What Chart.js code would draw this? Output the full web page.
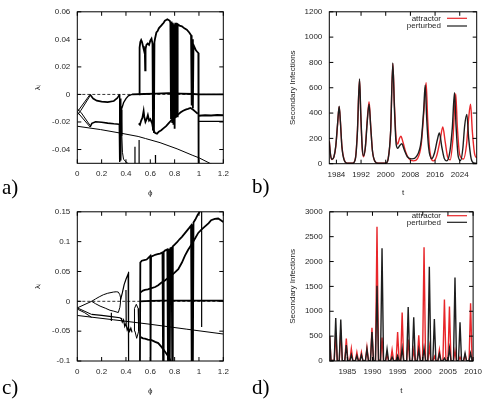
<!DOCTYPE html>
<html><head><meta charset="utf-8">
<script src="https://cdn.jsdelivr.net/npm/chart.js@4"></script>
<style>
body{margin:0;background:#fff;width:488px;height:400px;position:relative;overflow:hidden}
.p{position:absolute;width:244px;height:200px}
.lab{position:absolute;font-family:"Liberation Serif","DejaVu Serif",serif;font-size:21px;line-height:21px;color:#000}
</style></head><body>
<div class="p" style="left:0;top:0"><canvas id="ca" width="244" height="200"></canvas></div>
<div class="p" style="left:244px;top:0"><canvas id="cb" width="244" height="200"></canvas></div>
<div class="p" style="left:0;top:200px"><canvas id="cc" width="244" height="200"></canvas></div>
<div class="p" style="left:244px;top:200px"><canvas id="cd" width="244" height="200"></canvas></div>
<div class="lab" style="left:2px;top:177px">a)</div>
<div class="lab" style="left:252px;top:176px">b)</div>
<div class="lab" style="left:2px;top:377px">c)</div>
<div class="lab" style="left:252px;top:377px">d)</div>
<script>
// tick labels
const PHI_TICKS=[0,0.2,0.4,0.6,0.8,1,1.2];
const A_YTICKS=[0.06,0.04,0.02,0,-0.02,-0.04];
const C_YTICKS=[0.15,0.1,0.05,0,-0.05,-0.1];
const B_XTICKS=[1984,1992,2000,2008,2016,2024];
const B_YTICKS=[0,200,400,600,800,1000,1200];
const D_XTICKS=[1985,1990,1995,2000,2005,2010];
const D_YTICKS=[0,500,1000,1500,2000,2500,3000];

// panel a: lyapunov spectrum (phi, lambda)
const A_ZERO=[[0,0],[1.2,0]];
const A_LIN=[[0,-0.0231],[0.19,-0.0255],[0.35,-0.028],[0.5,-0.0305],[0.56,-0.032],[0.68,-0.035],[0.82,-0.0395],[0.95,-0.0443],[1.0,-0.046],[1.09,-0.05],[1.2,-0.055]];
const A_LEFT=[[0,-0.0127],[0.105,0],[0.105,null],[0,-0.0127],[0.105,-0.0236],[0.105,null],[0,-0.0105],[0.03,-0.013],[0.105,-0.0225],[0.105,null],[0,-0.015],[0.03,-0.0115],[0.105,-0.001]];
const A_UP=[[0.105,0],[0.13,-0.003],[0.16,-0.0045],[0.2,-0.0052],[0.25,-0.0056],[0.3,-0.0047],[0.33,-0.0025],[0.348,0]];
const A_LOW=[[0.105,-0.0236],[0.12,-0.021],[0.15,-0.0198],[0.2,-0.0202],[0.25,-0.0208],[0.3,-0.0213],[0.345,-0.0216]];
const A_SPK=[[0.345,-0.0216],[0.347,-0.049],[0.35,0],[0.353,-0.045],[0.356,-0.003],[0.359,-0.048],[0.362,-0.011],[0.37,-0.009],[0.38,-0.006],[0.4,-0.003],[0.42,-0.001],[0.45,0]];
const A_DROP=[[0.362,-0.011],[0.366,-0.03],[0.371,-0.042],[0.38,-0.047],[0.4,-0.049],[0.43,-0.051]];
const A_VERT=[[0.474,-0.038],[0.474,-0.051],[0.474,null],[0.508,-0.033],[0.508,-0.051],[0.508,null],[0.642,-0.044],[0.643,-0.051]];
const A_Z2=[[0.45,0],[0.55,0.0003],[0.65,0.0006],[0.75,0.0009],[0.85,0.0006],[0.95,0.0003],[1.0,0],[1.2,0]];
const A_TOP=[[0.508,0],[0.512,0.034],[0.518,0.038],[0.525,0.0395],[0.532,0.038],[0.54,0.035],[0.548,0.032],[0.555,0.031],[0.558,0.0175],[0.561,0.033],[0.568,0.036],[0.578,0.037],[0.59,0.036],[0.6,0.039],[0.61,0.0405],[0.618,0.037],[0.622,-0.026],[0.626,0.035],[0.63,-0.028],[0.634,0.038],[0.64,0.041],[0.65,0.045],[0.66,0.046],[0.67,0.048],[0.68,0.049],[0.69,0.05],[0.7,0.051],[0.71,0.052],[0.72,0.0535],[0.73,0.054],[0.74,0.0545],[0.75,0.054],[0.76,0.0535],[0.765,0.052],[0.77,-0.018],[0.775,0.053],[0.78,-0.02],[0.785,0.052],[0.79,-0.022],[0.795,0.051],[0.8,-0.025],[0.805,0.052],[0.81,-0.017],[0.815,0.051],[0.82,-0.016],[0.825,0.051],[0.84,0.05],[0.86,0.0495],[0.88,0.048],[0.9,0.047],[0.92,0.045],[0.935,0.043],[0.94,-0.008],[0.945,0.04],[0.95,-0.01],[0.955,0.036],[0.965,0.034],[0.975,0.032],[0.985,0.031],[0.995,0.03],[0.997,-0.05]];
const A_L3=[[0.505,-0.021],[0.515,-0.022],[0.525,-0.019],[0.535,-0.017],[0.545,-0.012],[0.55,-0.016],[0.56,-0.02],[0.57,-0.018],[0.58,-0.015],[0.59,-0.019],[0.6,-0.018],[0.615,-0.021],[0.625,-0.026],[0.64,-0.028],[0.655,-0.0285],[0.67,-0.027],[0.69,-0.026],[0.71,-0.0245],[0.73,-0.023],[0.75,-0.021],[0.77,-0.019],[0.79,-0.018],[0.81,-0.016],[0.83,-0.0145],[0.85,-0.013],[0.87,-0.0118],[0.89,-0.011],[0.91,-0.0105],[0.93,-0.0098],[0.95,-0.011],[0.97,-0.0125],[0.99,-0.014]];
const A_R1=[[0.997,-0.0155],[1.05,-0.0152],[1.1,-0.0153],[1.15,-0.015],[1.2,-0.0152]];
const A_R2=[[0.997,-0.0195],[1.2,-0.0195]];

// panel c
const C_ZERO=[[0,0],[1.2,0]];
const C_LIN=[[0,-0.0237],[0.3,-0.031],[0.6,-0.0385],[0.9,-0.0467],[1.2,-0.0548]];
const C_LEFT=[[0,-0.011],[0.118,0],[0.118,null],[0,-0.011],[0.118,-0.022],[0.118,null],[0,-0.013],[0.06,-0.019],[0.118,-0.027]];
const C_LOOP=[[0.118,0],[0.15,0.004],[0.18,0.0075],[0.214,0.011],[0.25,0.0135],[0.296,0.0155],[0.32,0.016],[0.337,0.0155],[0.35,0.011],[0.356,0.0057],[0.355,-0.002],[0.35,-0.01],[0.337,-0.0188],[0.3,-0.0165],[0.269,-0.015],[0.23,-0.0115],[0.187,-0.008],[0.15,-0.004],[0.118,0]];
const C_LOW=[[0.118,-0.022],[0.2,-0.0235],[0.28,-0.0255],[0.35,-0.0275],[0.37,-0.03]];
const C_MISC=[[0.28,-0.019],[0.28,-0.033],[0.28,null],[0.356,0.003],[0.37,0.014],[0.385,0.028],[0.4,0.037],[0.41,0.042],[0.418,0.046],[0.42,0.049],[0.423,-0.1],[0.423,null],[0.4,0.019],[0.402,-0.038],[0.402,null],[0.36,-0.028],[0.37,-0.035],[0.38,-0.031],[0.39,-0.042],[0.4,-0.037],[0.41,-0.048],[0.42,-0.043],[0.43,-0.05],[0.44,-0.045],[0.45,-0.052]];
const C_OVAL=[[0.485,-0.005],[0.5,-0.012],[0.507,-0.03],[0.502,-0.05],[0.488,-0.062],[0.474,-0.05],[0.468,-0.03],[0.472,-0.012],[0.485,-0.005]];
const C_Z2=[[0.515,0],[0.6,0.0008],[0.7,0.001],[0.8,0.0012],[0.9,0.0012],[1.0,0.001],[1.2,0.001]];
const C_TOP=[[0.515,-0.1],[0.518,0.065],[0.53,0.068],[0.55,0.069],[0.57,0.07],[0.59,0.074],[0.6,0.076],[0.602,-0.1],[0.606,0.075],[0.62,0.076],[0.64,0.078],[0.66,0.079],[0.68,0.08],[0.7,0.082],[0.705,-0.1],[0.71,0.083],[0.72,0.085],[0.74,0.087],[0.745,-0.1],[0.75,0.088],[0.76,-0.1],[0.765,0.089],[0.775,0.09],[0.78,-0.1],[0.785,0.092],[0.8,0.095],[0.82,0.099],[0.84,0.104],[0.86,0.108],[0.88,0.113],[0.9,0.118],[0.92,0.123],[0.935,0.127],[0.94,-0.1],[0.945,0.129],[0.95,-0.1],[0.955,0.132],[0.97,0.137],[0.98,0.141],[0.99,0.145],[1.0,0.148],[1.01,0.152]];
const C_SEC=[[0.52,0.015],[0.54,0.018],[0.556,0.0193],[0.58,0.02],[0.61,0.022],[0.64,0.024],[0.665,0.027],[0.69,0.031],[0.72,0.035],[0.75,0.04],[0.775,0.0435],[0.8,0.048],[0.83,0.054],[0.86,0.065],[0.885,0.0765],[0.91,0.086],[0.94,0.0955],[0.97,0.106],[0.994,0.1146],[1.02,0.12],[1.05,0.1255],[1.08,0.131],[1.1,0.136],[1.13,0.138],[1.158,0.1388],[1.18,0.136],[1.2,0.133]];
const C_LOW3=[[0.52,-0.06],[0.54,-0.062],[0.556,-0.0624],[0.58,-0.064],[0.61,-0.065],[0.64,-0.068],[0.665,-0.07],[0.69,-0.076],[0.72,-0.084],[0.74,-0.09],[0.76,-0.097],[0.77,-0.102]];
const C_V=[[1.022,0.152],[1.022,-0.043]];

// panel b: secondary infections (year, value)
const B_RED=[[1981.7,180],[1982.1,72],[1982.6,33],[1983.2,52],[1983.8,135],[1984.4,315],[1984.9,450],[1985.3,335],[1985.8,135],[1986.5,32],[1987.5,4],[1989.3,4],[1990.2,48],[1990.8,250],[1991.5,665],[1991.9,390],[1992.4,110],[1992.8,55],[1993.4,135],[1994.0,345],[1994.6,490],[1995.1,310],[1995.7,100],[1996.5,18],[1997.5,3],[2000,3],[2000.8,40],[2001.6,255],[2002.3,790],[2002.8,480],[2003.4,190],[2003.9,155],[2004.4,195],[2004.9,217],[2005.6,170],[2006.5,90],[2007.5,40],[2009,22],[2010.3,40],[2011.5,150],[2012.4,420],[2013.1,640],[2013.6,350],[2014.3,100],[2015.5,22],[2016.5,60],[2017.6,180],[2018.5,290],[2019.3,170],[2020.1,50],[2020.9,30],[2021.8,200],[2022.7,553],[2023.2,300],[2024,70],[2025.2,37],[2026.2,150],[2026.9,360],[2027.5,470],[2028.1,250],[2028.8,80],[2029.5,45]];
const B_BLK=[[1981.7,175],[1982.1,70],[1982.6,35],[1983.2,55],[1983.8,140],[1984.4,320],[1984.9,455],[1985.3,330],[1985.8,130],[1986.5,30],[1987.5,4],[1989.3,4],[1990.2,45],[1990.8,240],[1991.5,670],[1991.9,400],[1992.4,120],[1992.8,62],[1993.4,130],[1994.0,330],[1994.6,470],[1995.1,300],[1995.7,100],[1996.5,18],[1997.5,3],[2000,3],[2000.8,40],[2001.6,260],[2002.3,795],[2002.8,450],[2003.4,150],[2003.9,122],[2004.5,142],[2005.2,158],[2006,110],[2007,55],[2008.5,38],[2010,58],[2011.5,180],[2012.3,420],[2012.8,622],[2013.3,350],[2013.9,130],[2014.9,40],[2015.8,85],[2016.7,185],[2017.4,242],[2018.2,130],[2019,40],[2019.8,22],[2020.8,95],[2021.6,285],[2022.3,560],[2022.8,300],[2023.5,60],[2024.3,25],[2025,120],[2025.6,300],[2026.3,390],[2026.9,200],[2027.7,40],[2028.6,6],[2029.5,3]];

// panel d
const D_RED=[[1981.5,480],[1981.75,15],[1982.4,8],[1982.7,560],[1983.0,8],[1983.4,8],[1983.7,630],[1984.0,10],[1984.5,8],[1984.8,452],[1985.1,8],[1985.5,6],[1985.8,250],[1986.1,6],[1986.6,5],[1986.9,177],[1987.2,5],[1987.5,5],[1987.8,177],[1988.1,5],[1988.6,5],[1988.9,275],[1989.2,5],[1989.6,5],[1989.9,668],[1990.2,8],[1990.6,10],[1990.9,2700],[1991.2,15],[1991.6,8],[1991.9,472],[1992.2,5],[1992.6,4],[1992.9,124],[1993.2,4],[1993.6,4],[1993.9,223],[1994.2,4],[1994.7,4],[1995.0,583],[1995.3,5],[1995.6,5],[1995.9,976],[1996.2,6],[1996.8,6],[1997.1,432],[1997.4,6],[1997.9,5],[1998.2,223],[1998.5,5],[1998.9,5],[1999.2,517],[1999.5,8],[1999.95,8],[2000.25,2286],[2000.55,12],[2001.0,6],[2001.3,288],[2001.6,5],[2002.0,4],[2002.3,92],[2002.6,4],[2003.0,4],[2003.3,223],[2003.6,4],[2004.0,5],[2004.3,1238],[2004.6,8],[2005.0,8],[2005.3,1094],[2005.6,6],[2006.1,5],[2006.4,203],[2006.7,4],[2007.1,4],[2007.4,79],[2007.7,4],[2008.1,4],[2008.4,124],[2008.7,4],[2009.2,5],[2009.5,1160],[2009.8,8],[2010,5]];
const D_BLK=[[1981.5,500],[1981.75,15],[1982.4,8],[1982.7,865],[1983.0,8],[1983.4,8],[1983.7,832],[1984.0,10],[1984.5,8],[1984.8,321],[1985.1,8],[1985.5,6],[1985.8,124],[1986.1,6],[1986.6,5],[1986.9,105],[1987.2,5],[1987.5,5],[1987.8,124],[1988.1,5],[1988.6,5],[1988.9,242],[1989.2,5],[1989.6,5],[1989.9,583],[1990.2,8],[1990.6,10],[1990.9,1513],[1991.2,15],[1991.6,8],[1991.9,2266],[1992.2,5],[1992.6,4],[1992.9,242],[1993.2,4],[1993.6,4],[1993.9,79],[1994.2,4],[1994.7,4],[1995.0,105],[1995.3,5],[1995.6,5],[1995.9,255],[1996.2,6],[1996.8,6],[1997.1,1087],[1997.4,6],[1997.9,5],[1998.2,878],[1998.5,5],[1998.9,5],[1999.2,223],[1999.5,8],[1999.95,8],[2000.25,255],[2000.55,12],[2001.0,6],[2001.3,1893],[2001.6,5],[2002.0,4],[2002.3,845],[2002.6,4],[2003.0,4],[2003.3,144],[2003.6,4],[2004.0,5],[2004.3,59],[2004.6,8],[2005.0,8],[2005.3,255],[2005.6,6],[2006.1,5],[2006.4,1677],[2006.7,4],[2007.1,4],[2007.4,780],[2007.7,4],[2008.1,4],[2008.4,157],[2008.7,4],[2009.2,5],[2009.5,157],[2009.8,8],[2010,5]];

const RED='#e8262a', BLK='#1e1e1e', TXT='#262626', FONT='"Liberation Sans", Arial, sans-serif';
const P=a=>a.map(p=>({x:p[0],y:p[1]}));
function ds(arr,w,col,extra){return Object.assign({data:P(arr),borderColor:col||'#000',borderWidth:w||1,pointRadius:0,fill:false,tension:0,spanGaps:false},extra||{});}
const fmt=v=>String(Math.round(v*1000)/1000);

// box with inward ticks on all four sides
const frame={id:'frame',afterDatasetsDraw(c){
 const {ctx,chartArea:a,scales:{x,y}}=c;
 ctx.save();ctx.strokeStyle='#000';ctx.lineWidth=1;
 ctx.strokeRect(a.left,a.top,a.right-a.left,a.bottom-a.top);
 ctx.beginPath();
 x.ticks.forEach(t=>{const px=x.getPixelForValue(t.value);ctx.moveTo(px,a.bottom);ctx.lineTo(px,a.bottom-4);ctx.moveTo(px,a.top);ctx.lineTo(px,a.top+4);});
 y.ticks.forEach(t=>{const py=y.getPixelForValue(t.value);ctx.moveTo(a.left,py);ctx.lineTo(a.left+4,py);ctx.moveTo(a.right,py);ctx.lineTo(a.right-4,py);});
 ctx.stroke();ctx.restore();
}};
// gnuplot style key: text right-aligned, sample line to the right
const key={id:'key',afterDraw(c,args,o){
 if(!o||!o.rows) return;
 const ctx=c.ctx;ctx.save();ctx.font='8px '+FONT;ctx.textAlign='right';ctx.textBaseline='middle';
 o.rows.forEach(r=>{ctx.fillStyle=TXT;ctx.fillText(r[0],o.x,r[1]);ctx.strokeStyle=r[2];ctx.lineWidth=1.2;ctx.beginPath();ctx.moveTo(o.x+6,r[1]);ctx.lineTo(o.x+26,r[1]);ctx.stroke();});
 ctx.restore();
}};

function make(id,datasets,o){
 const f={family:FONT,size:8};
 return new Chart(document.getElementById(id),{
  type:'line',
  data:{datasets},
  options:{
   responsive:false,animation:false,events:[],
   layout:{padding:{left:0,right:244-o.r,top:o.t,bottom:0}},
   plugins:{legend:{display:false},tooltip:{enabled:false},key:o.key||{}},
   scales:{
    x:{type:'linear',min:o.xmin,max:o.xmax,grid:{display:false,drawTicks:false},border:{display:false},
     afterBuildTicks:s=>{s.ticks=o.xt.map(v=>({value:v}));},
     afterFit:s=>{s.height=200-o.b;},
     ticks:{padding:6,color:TXT,font:f,callback:fmt,maxRotation:0,autoSkip:false},
     title:{display:true,text:o.xl,color:TXT,font:f,padding:{top:0,bottom:o.xp}}},
    y:{type:'linear',min:o.ymin,max:o.ymax,grid:{display:false,drawTicks:false},border:{display:false},
     afterBuildTicks:s=>{s.ticks=o.yt.map(v=>({value:v}));},
     afterFit:s=>{s.width=o.l;},
     ticks:{padding:7,color:TXT,font:f,callback:fmt,autoSkip:false},
     title:{display:true,text:o.yl,color:TXT,font:f,padding:{top:o.yp,bottom:0}}}
   }
  },
  plugins:[frame,key]
 });
}

make('ca',[
 ds(A_ZERO,0.8,'#000',{borderDash:[3,2]}),
 ds(A_LIN,1),ds(A_LEFT,1),ds(A_UP,1.6),ds(A_LOW,1.6),ds(A_SPK,1.4),ds(A_DROP,1),ds(A_VERT,1.2),
 ds(A_Z2,1.8),ds(A_TOP,1.8),ds(A_L3,1.8),ds(A_R1,2),ds(A_R2,1.2)
],{l:77.3,r:223.3,t:11,b:163.3,xmin:0,xmax:1.2,ymin:-0.05,ymax:0.06,xt:PHI_TICKS,yt:A_YTICKS,xl:'ϕ',yl:'λᵢ',xp:2,yp:33});

make('cb',[
 ds(B_BLK,1.4,BLK,{cubicInterpolationMode:'monotone',order:0}),
 ds(B_RED,1.4,RED,{cubicInterpolationMode:'monotone',order:1})
],{l:85.3,r:232.7,t:11,b:163.7,xmin:1981.7,xmax:2029.5,ymin:0,ymax:1200,xt:B_XTICKS,yt:B_YTICKS,xl:'t',yl:'Secondary Infections',xp:2,yp:43.5,
 key:{x:197,rows:[['attractor',18.3,RED],['perturbed',26,BLK]]}});

make('cc',[
 ds(C_ZERO,0.8,'#000',{borderDash:[3,2]}),
 ds(C_LIN,1),ds(C_LEFT,1),ds(C_LOOP,1),ds(C_LOW,1.2),ds(C_MISC,1.2),ds(C_OVAL,1),
 ds(C_Z2,1.8),ds(C_TOP,1.8),ds(C_SEC,1.8),ds(C_LOW3,1.8),ds(C_V,1.2)
],{l:77.3,r:223.3,t:8,b:161,xmin:0,xmax:1.2,ymin:-0.1,ymax:0.15,xt:PHI_TICKS,yt:C_YTICKS,xl:'ϕ',yl:'λᵢ',xp:4.5,yp:33});

make('cd',[
 ds(D_BLK,1.4,BLK,{order:0}),
 ds(D_RED,1.4,RED,{order:1})
],{l:85.7,r:232.7,t:8.3,b:161,xmin:1981.5,xmax:2010,ymin:0,ymax:3000,xt:D_XTICKS,yt:D_YTICKS,xl:'t',yl:'Secondary Infections',xp:4.5,yp:43.5,
 key:{x:197,rows:[['attractor',15.7,RED],['perturbed',22.3,BLK]]}});
</script>
</body></html>
